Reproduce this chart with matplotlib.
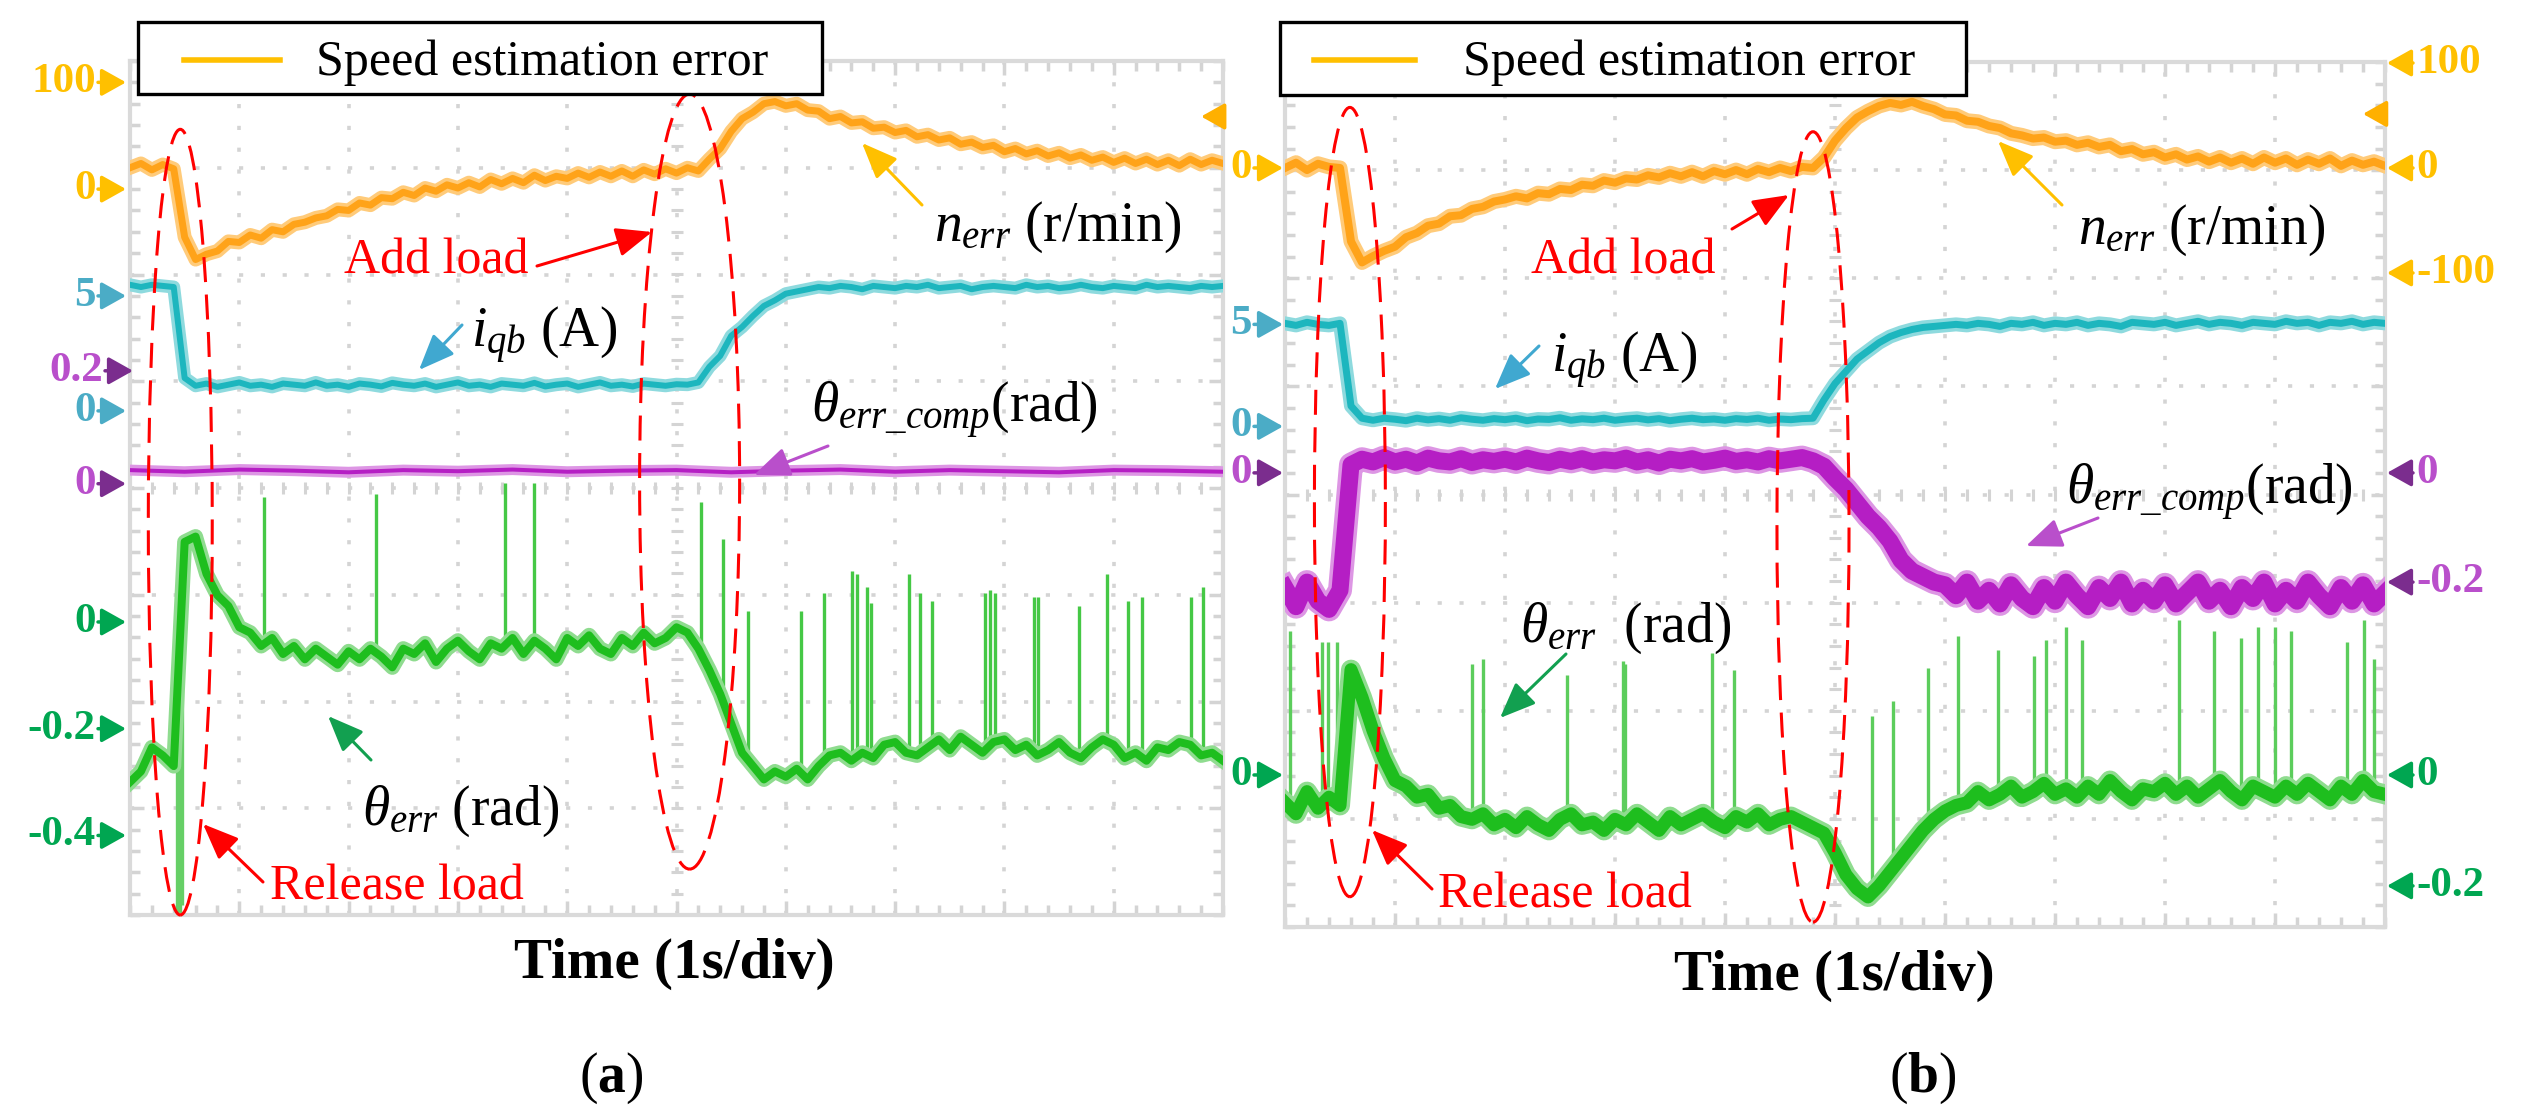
import numpy as np
import matplotlib
matplotlib.use('Agg')
import matplotlib.pyplot as plt
from matplotlib.patches import Ellipse, Rectangle
from matplotlib.lines import Line2D
from matplotlib.ticker import MultipleLocator

plt.rcParams['font.family'] = ['Liberation Serif', 'DejaVu Serif']
plt.rcParams['mathtext.fontset'] = 'custom'
plt.rcParams['mathtext.rm'] = 'Liberation Serif'
plt.rcParams['mathtext.it'] = 'Liberation Serif:italic'
plt.rcParams['mathtext.bf'] = 'Liberation Serif:bold'
plt.rcParams['lines.scale_dashes'] = False

W, H = 2523, 1117

# time axis of the scope traces, in divisions (1 s/div)
t = np.round(np.arange(0, 10.05, 0.1), 1)
t_coarse = np.arange(0, 10.5, 0.5)

# ---------------- panel (a) ----------------
n_err_a = [20, 24, 18, 23, 19, -45, -66, -61, -58, -49,
           -50, -43, -46, -38, -40, -33, -31, -27, -25, -19,
           -20, -13, -15, -8, -9, -3, -6, 1, -2, 4,
           1, 6, 2, 9, 5, 10, 6, 13, 8, 12,
           10, 15, 11, 16, 12, 17, 12, 18, 14, 19,
           15, 20, 17, 28, 38, 54, 66, 72, 80, 82,
           78, 80, 74, 73, 66, 68, 62, 63, 57, 58,
           53, 55, 49, 51, 46, 48, 42, 44, 39, 41,
           35, 38, 33, 36, 31, 34, 29, 32, 27, 30,
           25, 29, 24, 28, 23, 27, 22, 28, 23, 27,
           24]
i_qb_a = [5.5, 5.4, 5.5, 5.45, 5.4, 1.3, 0.95, 1.05, 0.9, 1.0,
          1.1, 0.95, 1.0, 0.9, 1.05, 1.0, 0.95, 1.1, 0.95, 1.0,
          0.9, 1.05, 1.0, 0.92, 1.08, 1.0, 0.95, 1.05, 0.9, 1.0,
          1.1, 0.95, 1.0, 0.9, 1.05, 1.0, 0.95, 1.08, 0.92, 1.0,
          1.05, 0.9, 1.0, 1.1, 0.95, 1.0, 0.92, 1.05, 1.0, 0.95,
          1.02, 1.0, 1.1, 1.8, 2.3, 3.2, 3.6, 4.1, 4.55, 4.8,
          5.1, 5.2, 5.3, 5.4, 5.35, 5.45, 5.4, 5.3, 5.45, 5.4,
          5.35, 5.45, 5.4, 5.5, 5.35, 5.4, 5.45, 5.3, 5.4, 5.45,
          5.4, 5.35, 5.5, 5.4, 5.45, 5.35, 5.4, 5.5, 5.4, 5.35,
          5.45, 5.4, 5.35, 5.5, 5.4, 5.45, 5.4, 5.35, 5.45, 5.4,
          5.45]
th_comp_a = [0.025, 0.022, 0.026, 0.024, 0.021, 0.025, 0.023, 0.026, 0.022, 0.024,
             0.025, 0.021, 0.024, 0.026, 0.022, 0.025, 0.023, 0.021, 0.025, 0.024,
             0.022]
th_err_a = [-0.30, -0.28, -0.235, -0.25, -0.27, 0.15, 0.16, 0.09, 0.05, 0.03,
            -0.01, -0.02, -0.045, -0.03, -0.06, -0.045, -0.07, -0.05, -0.065, -0.08,
            -0.055, -0.07, -0.05, -0.065, -0.085, -0.05, -0.06, -0.04, -0.075, -0.05,
            -0.035, -0.055, -0.07, -0.04, -0.05, -0.03, -0.06, -0.035, -0.05, -0.07,
            -0.03, -0.045, -0.025, -0.05, -0.06, -0.03, -0.045, -0.02, -0.04, -0.03,
            -0.01, -0.02, -0.05, -0.09, -0.135, -0.19, -0.245, -0.27, -0.295, -0.28,
            -0.29, -0.275, -0.295, -0.27, -0.25, -0.245, -0.26, -0.245, -0.255, -0.23,
            -0.225, -0.245, -0.25, -0.235, -0.22, -0.24, -0.215, -0.23, -0.245, -0.225,
            -0.22, -0.24, -0.23, -0.25, -0.24, -0.225, -0.245, -0.255, -0.235, -0.22,
            -0.23, -0.255, -0.245, -0.26, -0.235, -0.24, -0.225, -0.23, -0.25, -0.245,
            -0.26]
spike_t_a = [0.42, 1.23, 2.25, 3.43, 3.70, 5.22, 5.43, 5.65, 6.14, 6.35,
             6.61, 6.65, 6.74, 6.78, 7.13, 7.23, 7.34, 7.82, 7.87, 7.91,
             8.27, 8.31, 8.68, 8.94, 9.13, 9.26, 9.71, 9.82]
spike_top_a = [0.02, 0.235, 0.24, 0.26, 0.26, 0.225, 0.155, 0.02, 0.02, 0.055,
               0.095, 0.09, 0.065, 0.035, 0.09, 0.055, 0.04, 0.055, 0.06, 0.055,
               0.047, 0.047, 0.03, 0.09, 0.04, 0.047, 0.047, 0.065]
dip_t_a = [0.43, 0.455, 0.48]
dip_bottom_a = [-0.56, -0.56, -0.53]

# ---------------- panel (b) ----------------
n_err_b = [0, 5, -2, 4, 1, 0, -70, -90, -84, -79,
           -75, -66, -62, -55, -53, -46, -45, -39, -37, -32,
           -30, -27, -29, -24, -25, -20, -21, -16, -17, -12,
           -14, -10, -11, -7, -9, -5, -8, -4, -8, -3,
           -6, -2, -6, -1, -4, 0, -3, 1, 0, 10,
           26, 38, 48, 54, 59, 62, 60, 63, 59, 56,
           51, 50, 45, 44, 40, 38, 33, 31, 28, 29,
           25, 26, 22, 24, 20, 22, 16, 18, 13, 15,
           10, 13, 8, 11, 6, 10, 5, 9, 4, 10,
           5, 9, 3, 8, 4, 9, 2, 7, 3, 6,
           2]
i_qb_b = [5.05, 4.95, 5.1, 5.0, 4.95, 5.05, 1.0, 0.4, 0.3, 0.4,
          0.35, 0.28, 0.4, 0.32, 0.38, 0.3, 0.42, 0.35, 0.3, 0.38,
          0.33, 0.4, 0.28, 0.36, 0.34, 0.42, 0.3, 0.37, 0.33, 0.4,
          0.3, 0.36, 0.4, 0.32, 0.38, 0.28, 0.35, 0.4, 0.33, 0.36,
          0.3, 0.38, 0.34, 0.4, 0.3, 0.36, 0.33, 0.38, 0.4, 1.3,
          2.1, 2.7, 3.3, 3.7, 4.1, 4.4, 4.6, 4.75, 4.85, 4.9,
          4.95, 5.0, 4.95, 5.05, 5.0, 4.9, 5.05, 5.0, 5.1, 4.95,
          5.05, 5.0, 5.1, 4.95, 5.05, 5.0, 4.9, 5.1, 5.05, 5.0,
          5.1, 4.95, 5.05, 5.15, 5.0, 5.1, 5.05, 4.95, 5.1, 5.05,
          5.0, 5.15, 5.05, 5.1, 4.95, 5.1, 5.05, 5.15, 5.0, 5.1,
          5.05]
th_comp_b = [-0.21, -0.245, -0.2, -0.235, -0.25, -0.215, 0.015, 0.025, 0.02, 0.028,
             0.02, 0.025, 0.018, 0.027, 0.022, 0.02, 0.026, 0.019, 0.024, 0.021,
             0.025, 0.02, 0.027, 0.022, 0.019, 0.025, 0.021, 0.026, 0.02, 0.024,
             0.022, 0.027, 0.02, 0.024, 0.018, 0.025, 0.022, 0.026, 0.02, 0.023,
             0.027, 0.021, 0.024, 0.02, 0.026, 0.022, 0.025, 0.028, 0.022, 0.012,
             -0.01, -0.03, -0.055, -0.08, -0.1, -0.125, -0.16, -0.18, -0.19, -0.2,
             -0.205, -0.225, -0.2, -0.235, -0.215, -0.24, -0.205, -0.23, -0.245, -0.21,
             -0.235, -0.2, -0.225, -0.245, -0.21, -0.23, -0.2, -0.24, -0.215, -0.235,
             -0.205, -0.24, -0.22, -0.2, -0.235, -0.215, -0.245, -0.21, -0.23, -0.2,
             -0.24, -0.215, -0.235, -0.2, -0.225, -0.245, -0.21, -0.235, -0.205, -0.24,
             -0.22]
th_err_b = [-0.05, -0.07, -0.03, -0.06, -0.04, -0.055, 0.19, 0.14, 0.08, 0.03,
            -0.01, -0.02, -0.04, -0.035, -0.06, -0.055, -0.075, -0.08, -0.07, -0.09,
            -0.08, -0.095, -0.075, -0.09, -0.1, -0.08, -0.07, -0.09, -0.085, -0.1,
            -0.08, -0.09, -0.07, -0.085, -0.1, -0.075, -0.09, -0.08, -0.07, -0.085,
            -0.095, -0.075, -0.085, -0.07, -0.09, -0.08, -0.075, -0.085, -0.095, -0.105,
            -0.14, -0.18, -0.205, -0.22, -0.2, -0.175, -0.15, -0.125, -0.1, -0.08,
            -0.065, -0.055, -0.05, -0.03, -0.045, -0.035, -0.02, -0.04, -0.03, -0.015,
            -0.035, -0.025, -0.04, -0.02, -0.035, -0.01, -0.03, -0.045, -0.025, -0.03,
            -0.015, -0.035, -0.02, -0.04, -0.025, -0.01, -0.03, -0.045, -0.02, -0.03,
            -0.04, -0.02, -0.035, -0.015, -0.03, -0.045, -0.02, -0.035, -0.01, -0.03,
            -0.035]
spike_t_b = [0.05, 0.34, 0.39, 0.47, 1.70, 1.80, 2.56, 3.07, 3.09, 3.88,
             4.08, 5.34, 5.53, 5.85, 6.12, 6.48, 6.81, 6.92, 7.10, 7.25,
             8.13, 8.45, 8.69, 8.85, 9.00, 9.15, 9.65, 9.81, 9.90]
spike_top_b = [0.26, 0.24, 0.24, 0.24, 0.20, 0.21, 0.18, 0.205, 0.20, 0.22,
               0.19, 0.106, 0.133, 0.193, 0.25, 0.225, 0.214, 0.243, 0.267, 0.243,
               0.28, 0.26, 0.247, 0.267, 0.267, 0.26, 0.24, 0.28, 0.21]

# channel placement on the screen: (zero level in div, units per div)
chan_a = {'n': (6.80, 100), 'i': (4.76, 4.81), 'c': (4.04, 0.196), 'e': (2.745, 0.2)}
chan_b = {'n': (7.02, 103), 'i': (4.63, 5.3), 'c': (4.20, 0.198), 'e': (1.406, 0.195)}

ORANGE, ORANGE_L = '#FFA319', '#FFCB7A'
CYAN, CYAN_L = '#1DB6BE', '#8EDADE'
PURPLE, PURPLE_L = '#B51EC4', '#DD96E4'
GREEN, GREEN_L = '#1EBE1E', '#8FDC8F'
T_ORANGE, T_CYAN, T_PURPLE, T_GREEN = '#FFC000', '#4BACC6', '#B94FCB', '#00A651'
A_PURPLE = '#7B2D8E'
RED = '#FF0000'

fig = plt.figure(figsize=(W / 100, H / 100), dpi=100)


def box(l, top, r, b):
    return [l / W, 1 - b / H, (r - l) / W, (b - top) / H]


ax_a = fig.add_axes(box(130, 61, 1223, 915))
ax_b = fig.add_axes(box(1285, 62, 2385, 927))


def scope(ax):
    ax.set_xlim(0, 10)
    ax.set_ylim(0, 8)
    ax.set_xticks(np.arange(1, 10))
    ax.set_yticks(np.arange(1, 8))
    ax.xaxis.set_minor_locator(MultipleLocator(0.2))
    ax.yaxis.set_minor_locator(MultipleLocator(0.2))
    ax.tick_params(which='both', direction='in', top=True, right=True,
                   labelbottom=False, labelleft=False, color='#d4d4d4', width=2.5)
    ax.tick_params(which='major', length=10)
    ax.tick_params(which='minor', length=7)
    ax.grid(True, which='major', color='#d4d4d4', lw=2.6, ls=(0, (3, 12.7)))
    for s in ax.spines.values():
        s.set_color('#dadada')
        s.set_linewidth(3)
    ax.patch.set_alpha(0)
    marks = np.arange(0.2, 10, 0.2)
    ax.plot(marks, np.full(len(marks), 4.0), ls='none', marker='|', ms=9,
            mew=2.2, color='#d4d4d4', zorder=1)
    vm = np.arange(0.2, 8, 0.2)
    ax.plot(np.full(len(vm), 5.0), vm, ls='none', marker='_', ms=9,
            mew=2.2, color='#d4d4d4', zorder=1)


def trace(ax, tt, vals, ch, color, light, lw_px):
    off, upd = ch
    y = off + np.asarray(vals) / upd
    ax.plot(tt, y, color=light, lw=(lw_px + 7) * 0.72, zorder=3)
    ax.plot(tt, y, color=color, lw=lw_px * 0.72, zorder=4)
    return y


def spikes(ax, st, top, base_t, base_y, ch, color):
    off, upd = ch
    y0 = np.interp(st, base_t, base_y)
    y1 = off + np.asarray(top) / upd
    ax.vlines(st, y0, y1, colors=color, lw=2.4, zorder=2.5)


scope(ax_a)
scope(ax_b)

# panel (a) traces
ya = trace(ax_a, t, th_err_a, chan_a['e'], GREEN, GREEN_L, 8)
spikes(ax_a, spike_t_a, spike_top_a, t, ya, chan_a['e'], '#45C845')
spikes(ax_a, dip_t_a, dip_bottom_a, t, ya, chan_a['e'], '#66CF66')
trace(ax_a, t_coarse, th_comp_a, chan_a['c'], PURPLE, PURPLE_L, 4)
trace(ax_a, t, i_qb_a, chan_a['i'], CYAN, CYAN_L, 6)
trace(ax_a, t, n_err_a, chan_a['n'], ORANGE, ORANGE_L, 7)

# panel (b) traces
yb = trace(ax_b, t, th_err_b, chan_b['e'], GREEN, GREEN_L, 13)
spikes(ax_b, spike_t_b, spike_top_b, t, yb, chan_b['e'], '#5CCD5C')
trace(ax_b, t, th_comp_b, chan_b['c'], PURPLE, PURPLE_L, 17)
trace(ax_b, t, i_qb_b, chan_b['i'], CYAN, CYAN_L, 7)
trace(ax_b, t, n_err_b, chan_b['n'], ORANGE, ORANGE_L, 8)

# trigger level markers at the right edge
for ax, yl in ((ax_a, 7.48), (ax_b, 7.52)):
    ax.annotate('', xy=(9.8, yl), xytext=(10.0, yl),
                arrowprops=dict(arrowstyle='-|>,head_length=0.8,head_width=0.45',
                                mutation_scale=18, lw=2.5, color='#FFB000',
                                shrinkA=0, shrinkB=0), zorder=6)

# red dashed ellipses around load steps
for ax, (cx, cy, w, h) in ((ax_a, (0.46, 3.68, 0.585, 7.36)),
                           (ax_a, (5.12, 4.06, 0.915, 7.26)),
                           (ax_b, (0.59, 3.93, 0.645, 7.30)),
                           (ax_b, (4.80, 3.70, 0.655, 7.31))):
    ax.add_patch(Ellipse((cx, cy), w, h, fill=False, ec=RED, lw=2.2,
                         ls=(0, (18, 9)), clip_on=False, zorder=7))


def ypx(ax, ch, v):
    off, upd = ch
    return H - ax.transData.transform((0, off + v / upd))[1]


def level(ax, label, y, x_text, x_tail, x_tip, tcol, acol, ha):
    fig.text(x_text / W, 1 - y / H, label, color=tcol, fontsize=31,
             fontweight='bold', ha=ha, va='center')
    ax.annotate('', xy=(x_tip, H - y), xycoords='figure pixels',
                xytext=(x_tail, H - y), textcoords='figure pixels',
                arrowprops=dict(arrowstyle='-|>,head_length=0.75,head_width=0.42',
                                mutation_scale=20, lw=2.5, color=acol,
                                shrinkA=0, shrinkB=0))


left_a = [('100', 'n', 100, T_ORANGE, T_ORANGE, 0, 0), ('0', 'n', 0, T_ORANGE, T_ORANGE, 0, 0),
          ('5', 'i', 5, T_CYAN, T_CYAN, 0, 0), ('0.2', 'c', 0.2, T_PURPLE, A_PURPLE, 7, -4),
          ('0', 'i', 0, T_CYAN, T_CYAN, 0, 4), ('0', 'c', 0, T_PURPLE, A_PURPLE, 0, 0),
          ('0', 'e', 0, T_GREEN, T_GREEN, 0, 0), ('-0.2', 'e', -0.2, T_GREEN, T_GREEN, 0, 0),
          ('-0.4', 'e', -0.4, T_GREEN, T_GREEN, 0, 0)]
for lab, c, v, tc, ac, dx, dy in left_a:
    y = ypx(ax_a, chan_a[c], v) + dy
    level(ax_a, lab, y, 96 + dx, 98 + dx, 126 + dx, tc, ac, 'right')

left_b = [('0', 'n', 0, T_ORANGE, T_ORANGE), ('5', 'i', 5, T_CYAN, T_CYAN),
          ('0', 'i', 0, T_CYAN, T_CYAN), ('0', 'c', 0, T_PURPLE, A_PURPLE),
          ('0', 'e', 0, T_GREEN, T_GREEN)]
for lab, c, v, tc, ac in left_b:
    y = ypx(ax_b, chan_b[c], v)
    level(ax_b, lab, y, 1252, 1254, 1283, tc, ac, 'right')

right_b = [('100', 'n', 100, T_ORANGE, T_ORANGE), ('0', 'n', 0, T_ORANGE, T_ORANGE),
           ('-100', 'n', -100, T_ORANGE, T_ORANGE), ('0', 'c', 0, T_PURPLE, A_PURPLE),
           ('-0.2', 'c', -0.2, T_PURPLE, A_PURPLE), ('0', 'e', 0, T_GREEN, T_GREEN),
           ('-0.2', 'e', -0.2, T_GREEN, T_GREEN)]
for lab, c, v, tc, ac in right_b:
    y = ypx(ax_b, chan_b[c], v)
    level(ax_b, lab, y, 2416, 2413, 2387, tc, ac, 'left')


def label(x, y, s, color='black', size=40, **kw):
    fig.text(x / W, 1 - y / H, s, color=color, fontsize=size, ha='left',
             va='baseline', zorder=8, **kw)


def pointer(ax, tail, head, color):
    ax.annotate('', xy=(head[0], H - head[1]), xycoords='figure pixels',
                xytext=(tail[0], H - tail[1]), textcoords='figure pixels',
                arrowprops=dict(arrowstyle='-|>,head_length=1.1,head_width=0.45',
                                mutation_scale=20, lw=2.2, color=color,
                                shrinkA=0, shrinkB=0), zorder=8)


# annotations, panel (a)
label(934, 241, r'$n_{err}$ (r/min)')
pointer(ax_a, (922, 205), (862, 143), T_ORANGE)
label(471, 347, r'$i_{qb}$ (A)')
pointer(ax_a, (462, 325), (419, 370), '#40A8D0')
label(811, 422, r'$\theta_{err\_comp}$(rad)')
pointer(ax_a, (828, 446), (754, 475), T_PURPLE)
label(362, 825, r'$\theta_{err}$ (rad)')
pointer(ax_a, (371, 760), (328, 716), '#12A050')
label(344, 273, 'Add load', color=RED, size=36)
pointer(ax_a, (537, 266), (652, 232), RED)
label(270, 899, 'Release load', color=RED, size=36)
pointer(ax_a, (263, 882), (203, 824), RED)

# annotations, panel (b)
label(2078, 244, r'$n_{err}$ (r/min)')
pointer(ax_b, (2062, 205), (1998, 141), T_ORANGE)
label(1551, 372, r'$i_{qb}$ (A)')
pointer(ax_b, (1539, 346), (1495, 389), '#40A8D0')
label(2066, 504, r'$\theta_{err\_comp}$(rad)')
pointer(ax_b, (2098, 518), (2026, 546), T_PURPLE)
label(1520, 642, r'$\theta_{err}$  (rad)')
pointer(ax_b, (1566, 654), (1500, 718), '#12A050')
label(1531, 273, 'Add load', color=RED, size=36)
pointer(ax_b, (1732, 229), (1789, 195), RED)
label(1438, 908, 'Release load', color=RED, size=36)
pointer(ax_b, (1432, 889), (1372, 830), RED)

# legend boxes
for (l, top, r, b), (h0, h1), tx in (((138, 22, 822, 94), (184, 280), 316),
                                     ((1280, 22, 1966, 95), (1314, 1415), 1463)):
    fig.add_artist(Rectangle((l / W, 1 - b / H), (r - l) / W, (b - top) / H,
                             transform=fig.transFigure, facecolor='white',
                             edgecolor='black', lw=2.4, zorder=5))
    fig.add_artist(Line2D([h0 / W, h1 / W], [1 - 60 / H, 1 - 60 / H],
                          transform=fig.transFigure, color=T_ORANGE, lw=4, zorder=6))
    fig.text(tx / W, 1 - 75 / H, 'Speed estimation error', fontsize=36,
             ha='left', va='baseline', zorder=7)

# axis captions and panel tags
for xc, yb_, tag_x, tag in ((674, 978, 611, 'a'), (1834, 990, 1923, 'b')):
    fig.text(xc / W, 1 - yb_ / H, 'Time (1s/div)', fontsize=41, fontweight='bold',
             ha='center', va='baseline')
    fig.text(tag_x / W, 1 - 1092 / H, '($\\mathbf{' + tag + '}$)', fontsize=40,
             ha='center', va='baseline')

fig.savefig('out.png', dpi=100, facecolor='white')
